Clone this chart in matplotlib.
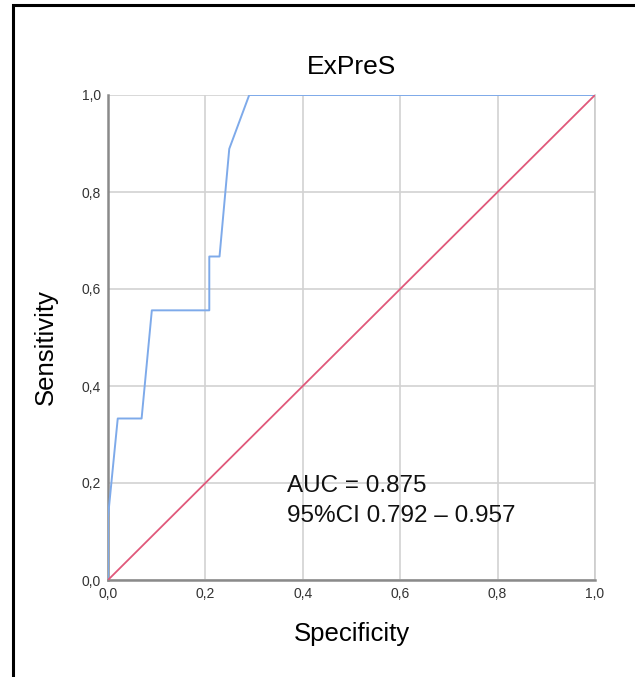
import numpy as np
import matplotlib.pyplot as plt
from matplotlib.patches import Rectangle

plt.rcParams['font.family'] = ['Liberation Sans', 'DejaVu Sans']

# ROC curve (1 - specificity on x, sensitivity on y)
fpr = [0.0, 0.0, 0.020, 0.069, 0.090, 0.208, 0.208, 0.229, 0.249, 0.290, 1.0]
tpr = [0.0, 0.130, 0.333, 0.333, 0.556, 0.556, 0.667, 0.667, 0.889, 1.0, 1.0]
ref = [0.0, 1.0]
ticks = [0.0, 0.2, 0.4, 0.6, 0.8, 1.0]
tick_labels = ['0,0', '0,2', '0,4', '0,6', '0,8', '1,0']
title = 'ExPreS'
auc_text = 'AUC = 0.875\n95%CI 0.792 \u2013 0.957'

fig = plt.figure(figsize=(6.35, 6.77), dpi=100)
ax = fig.add_axes([108 / 635, 1 - 580 / 677, 487 / 635, 485 / 677])

# outer frame of the figure (cut off at right and bottom)
fig.patches.append(Rectangle((13 / 635, -0.05), 1.2, 1 - 5 / 677 + 0.05,
                             transform=fig.transFigure, fill=False,
                             edgecolor='black', linewidth=2.2))

ax.plot(fpr, tpr, color='#7eaaea', lw=1.4, zorder=3)
ax.plot(ref, ref, color='#e0587a', lw=1.3, zorder=3)

ax.set_xlim(0, 1)
ax.set_ylim(0, 1)
ax.set_xticks(ticks)
ax.set_yticks(ticks)
ax.set_xticklabels(tick_labels)
ax.set_yticklabels(tick_labels)
ax.tick_params(length=0, pad=5, labelsize=10, labelcolor='#333333')
ax.grid(True, color='#d2d2d2', lw=1.2)
ax.set_axisbelow(True)

ax.spines['top'].set_visible(False)
ax.spines['right'].set_color('#cccccc')
ax.spines['right'].set_linewidth(1.2)
for s in ['left', 'bottom']:
    ax.spines[s].set_color('#8a8a8a')
    ax.spines[s].set_linewidth(1.8)

ax.set_title(title, fontsize=19, pad=15)
ax.set_xlabel('Specificity', fontsize=18.5)
ax.set_ylabel('Sensitivity', fontsize=18.5)
ax.xaxis.set_label_coords(0.5, -0.086)
ax.yaxis.set_label_coords(-0.103, 0.48)

ax.text(0.367, 0.163, auc_text, fontsize=17.5, va='center', ha='left',
        linespacing=1.5, color='#111111')

fig.savefig('out.png', dpi=100)
